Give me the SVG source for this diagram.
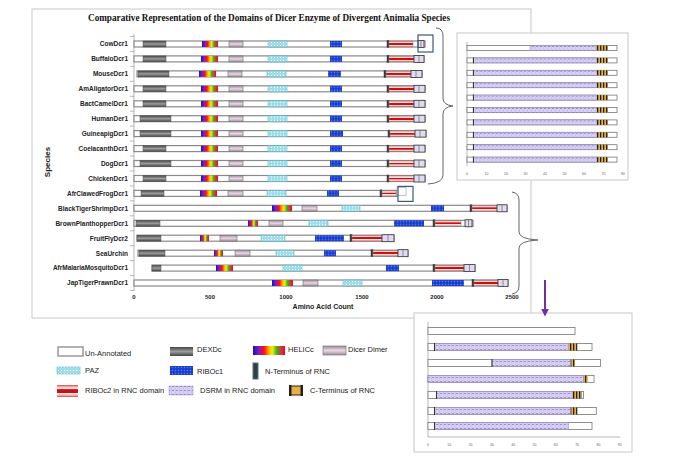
<svg xmlns="http://www.w3.org/2000/svg" width="700" height="463" viewBox="0 0 700 463">
<defs>
<linearGradient id="gDex" x1="0" y1="0" x2="0" y2="1"><stop offset="0" stop-color="#444"/><stop offset="0.5" stop-color="#9c9c9c"/><stop offset="1" stop-color="#444"/></linearGradient>
<linearGradient id="gHel" x1="0" y1="0" x2="1" y2="0"><stop offset="0" stop-color="#1010d0"/><stop offset="0.18" stop-color="#8020c0"/><stop offset="0.35" stop-color="#ff1010"/><stop offset="0.5" stop-color="#ffb000"/><stop offset="0.6" stop-color="#f0f000"/><stop offset="0.75" stop-color="#30b030"/><stop offset="0.9" stop-color="#ff2020"/><stop offset="1" stop-color="#c01060"/></linearGradient>
<linearGradient id="gDim" x1="0" y1="0" x2="0" y2="1"><stop offset="0" stop-color="#a08c9c"/><stop offset="0.5" stop-color="#e8d8e4"/><stop offset="1" stop-color="#a08c9c"/></linearGradient>
<linearGradient id="gRib2" x1="0" y1="0" x2="0" y2="1"><stop offset="0" stop-color="#d84848"/><stop offset="0.18" stop-color="#f6c8c8"/><stop offset="0.34" stop-color="#fde8e8"/><stop offset="0.38" stop-color="#cc1010"/><stop offset="0.64" stop-color="#cc1010"/><stop offset="0.68" stop-color="#fde8e8"/><stop offset="0.82" stop-color="#f6c8c8"/><stop offset="1" stop-color="#d84848"/></linearGradient>
<pattern id="pPaz" patternUnits="userSpaceOnUse" width="3" height="3"><rect width="3" height="3" fill="#9fdde9"/><rect x="1" y="1" width="1" height="1" fill="#fff"/></pattern>
<pattern id="pRib1" patternUnits="userSpaceOnUse" width="3" height="3"><rect width="3" height="3" fill="#1636c4"/><rect x="0.7" y="0.7" width="1.6" height="1.6" fill="#4a7aff"/></pattern>
<pattern id="pDsrm" patternUnits="userSpaceOnUse" width="4" height="4"><rect width="4" height="4" fill="#d8d0f2"/><rect x="0" y="2" width="2.2" height="0.6" fill="#7a68c0"/><rect x="3" y="0" width="0.5" height="4" fill="#c0b6e6"/></pattern>
<pattern id="pCt" patternUnits="userSpaceOnUse" width="3" height="3"><rect width="3" height="3" fill="#e9b040"/><rect x="0" y="0" width="1.3" height="3" fill="#222"/></pattern>
<marker id="arr" viewBox="0 0 10 10" refX="8" refY="5" markerWidth="4" markerHeight="4" orient="auto"><path d="M0,0 L10,5 L0,10 z" fill="#7030a0"/></marker>
<style>
.frame{fill:#fff;stroke:#c8c8c8;stroke-width:1}
.bar{fill:#fff;stroke:#8a8a8a;stroke-width:1.2}
.dex{fill:url(#gDex);stroke:#555;stroke-width:0.5}
.hel{fill:url(#gHel)}
.dim{fill:url(#gDim);stroke:#7a7a7a;stroke-width:0.7}
.paz{fill:url(#pPaz);stroke:#5bb8cc;stroke-width:0.6}
.rib1{fill:url(#pRib1)}
.nt{fill:#3a3a3a;stroke:#2a4a50;stroke-width:0.5}
.rib2{fill:url(#gRib2);stroke:#888;stroke-width:0.5}
.end{fill:#e2daf0;stroke:#333;stroke-width:0.8}
.endl{stroke:#555;stroke-width:0.6}
.lbl{font-family:"Liberation Sans",Arial,sans-serif;font-weight:bold;font-size:6.5px;text-anchor:end;fill:#222}
.ax{font-family:"Liberation Sans",Arial,sans-serif;font-weight:bold;font-size:6px;text-anchor:middle;fill:#222}
.sax{font-family:"Liberation Sans",Arial,sans-serif;font-size:3.5px;text-anchor:middle;fill:#666}
.leg{font-family:"Liberation Sans",Arial,sans-serif;font-size:7.5px;fill:#222}
.ibar{fill:#fff;stroke:#777;stroke-width:0.8}
.ds{fill:url(#pDsrm);stroke:#8878c0;stroke-width:0.4}
.ct{fill:url(#pCt)}
.axl{stroke:#999;stroke-width:0.7;fill:none}
.brace{fill:none;stroke:#666;stroke-width:1}
.hl{fill:none;stroke:#3a5a78;stroke-width:1.2}
</style>
</defs>

<rect class="frame" x="32" y="9" width="499" height="309"/>
<text x="269" y="21" font-family="Liberation Serif,Times New Roman,serif" font-weight="bold" font-size="9.5" text-anchor="middle" textLength="362" lengthAdjust="spacingAndGlyphs" fill="#111">Comparative  Representation of the Domains of Dicer Enzyme of Divergent Animalia Species</text>
<text transform="translate(50,162) rotate(-90)" font-family="Liberation Sans,Arial,sans-serif" font-weight="bold" font-size="8" text-anchor="middle" fill="#222">Species</text>

<g id="axis">
<line class="axl" x1="134" y1="34" x2="134" y2="291"/>
<path class="axl" d="M130,36.5H134M130,51.4H134M130,66.4H134M130,81.3H134M130,96.3H134M130,111.2H134M130,126.1H134M130,141.1H134M130,156H134M130,171H134M130,185.9H134M130,200.8H134M130,215.8H134M130,230.7H134M130,245.7H134M130,260.6H134M130,275.5H134M130,290.5H134"/>
<text class="ax" x="134" y="299">0</text>
<text class="ax" x="210" y="299">500</text>
<text class="ax" x="286" y="299">1000</text>
<text class="ax" x="362" y="299">1500</text>
<text class="ax" x="437" y="299">2000</text>
<text class="ax" x="512" y="299">2500</text>
<text x="323" y="309" font-family="Liberation Sans,Arial,sans-serif" font-weight="bold" font-size="7" text-anchor="middle" fill="#222">Amino Acid Count</text>
</g>

<g id="CowDcr1" transform="translate(0,44)">
<text class="lbl" x="128" y="2.3">CowDcr1</text>
<rect class="bar" x="134" y="-3" width="291" height="6"/>
<rect class="dex" x="143" y="-3" width="23" height="6"/><rect class="hel" x="202" y="-3" width="16" height="6"/><rect class="dim" x="229" y="-3" width="14" height="6"/><rect class="paz" x="268" y="-3" width="19" height="6"/><rect class="rib1" x="330" y="-3" width="12" height="6"/><rect class="nt" x="387" y="-3.5" width="2" height="7"/><rect class="rib2" x="389" y="-3" width="24" height="6"/><rect class="end" x="418" y="-3.5" width="6" height="7"/><line class="endl" x1="421" y1="-3.5" x2="421" y2="3.5"/>
<rect class="hl" x="418" y="-9" width="15" height="17"/>
</g>
<g id="BuffaloDcr1" transform="translate(0,58.9)">
<text class="lbl" x="128" y="2.3">BuffaloDcr1</text>
<rect class="bar" x="134" y="-3" width="290" height="6"/>
<rect class="dex" x="143" y="-3" width="23" height="6"/><rect class="hel" x="201" y="-3" width="17" height="6"/><rect class="dim" x="229" y="-3" width="14" height="6"/><rect class="paz" x="268" y="-3" width="19" height="6"/><rect class="rib1" x="330" y="-3" width="12" height="6"/><rect class="nt" x="387" y="-3.5" width="2" height="7"/><rect class="rib2" x="389" y="-3" width="25" height="6"/><rect class="end" x="414" y="-3.5" width="10" height="7"/><line class="endl" x1="419" y1="-3.5" x2="419" y2="3.5"/>
</g>
<g id="MouseDcr1" transform="translate(0,73.9)">
<text class="lbl" x="128" y="2.3">MouseDcr1</text>
<rect class="bar" x="137" y="-3" width="285" height="6"/>
<rect class="dex" x="138" y="-3" width="31" height="6"/><rect class="hel" x="199" y="-3" width="17" height="6"/><rect class="dim" x="228" y="-3" width="14" height="6"/><rect class="paz" x="267" y="-3" width="19" height="6"/><rect class="rib1" x="328" y="-3" width="13" height="6"/><rect class="nt" x="384" y="-3.5" width="2" height="7"/><rect class="rib2" x="386" y="-3" width="25" height="6"/><rect class="end" x="411" y="-3.5" width="11" height="7"/><line class="endl" x1="416" y1="-3.5" x2="416" y2="3.5"/>
</g>
<g id="AmAligatorDcr1" transform="translate(0,88.8)">
<text class="lbl" x="128" y="2.3">AmAligatorDcr1</text>
<rect class="bar" x="134" y="-3" width="291" height="6"/>
<rect class="dex" x="143" y="-3" width="23" height="6"/><rect class="hel" x="201" y="-3" width="17" height="6"/><rect class="dim" x="229" y="-3" width="14" height="6"/><rect class="paz" x="268" y="-3" width="19" height="6"/><rect class="rib1" x="330" y="-3" width="12" height="6"/><rect class="nt" x="387" y="-3.5" width="2" height="7"/><rect class="rib2" x="389" y="-3" width="25" height="6"/><rect class="end" x="414" y="-3.5" width="11" height="7"/><line class="endl" x1="419" y1="-3.5" x2="419" y2="3.5"/>
</g>
<g id="BactCamelDcr1" transform="translate(0,103.8)">
<text class="lbl" x="128" y="2.3">BactCamelDcr1</text>
<rect class="bar" x="134" y="-3" width="291" height="6"/>
<rect class="dex" x="143" y="-3" width="23" height="6"/><rect class="hel" x="201" y="-3" width="17" height="6"/><rect class="dim" x="229" y="-3" width="14" height="6"/><rect class="paz" x="268" y="-3" width="19" height="6"/><rect class="rib1" x="330" y="-3" width="12" height="6"/><rect class="nt" x="387" y="-3.5" width="2" height="7"/><rect class="rib2" x="389" y="-3" width="25" height="6"/><rect class="end" x="414" y="-3.5" width="11" height="7"/><line class="endl" x1="419" y1="-3.5" x2="419" y2="3.5"/>
</g>
<g id="HumanDer1" transform="translate(0,118.7)">
<text class="lbl" x="128" y="2.3">HumanDer1</text>
<rect class="bar" x="134" y="-3" width="291" height="6"/>
<rect class="dex" x="140" y="-3" width="31" height="6"/><rect class="hel" x="201" y="-3" width="17" height="6"/><rect class="dim" x="229" y="-3" width="14" height="6"/><rect class="paz" x="268" y="-3" width="19" height="6"/><rect class="rib1" x="330" y="-3" width="12" height="6"/><rect class="nt" x="387" y="-3.5" width="2" height="7"/><rect class="rib2" x="389" y="-3" width="25" height="6"/><rect class="end" x="414" y="-3.5" width="11" height="7"/><line class="endl" x1="419" y1="-3.5" x2="419" y2="3.5"/>
</g>
<g id="GuineapigDcr1" transform="translate(0,133.6)">
<text class="lbl" x="128" y="2.3">GuineapigDcr1</text>
<rect class="bar" x="134" y="-3" width="292" height="6"/>
<rect class="dex" x="140" y="-3" width="31" height="6"/><rect class="hel" x="201" y="-3" width="17" height="6"/><rect class="dim" x="229" y="-3" width="14" height="6"/><rect class="paz" x="268" y="-3" width="19" height="6"/><rect class="rib1" x="330" y="-3" width="13" height="6"/><rect class="nt" x="388" y="-3.5" width="2" height="7"/><rect class="rib2" x="390" y="-3" width="25" height="6"/><rect class="end" x="415" y="-3.5" width="11" height="7"/><line class="endl" x1="420" y1="-3.5" x2="420" y2="3.5"/>
</g>
<g id="CoelacanthDcr1" transform="translate(0,148.6)">
<text class="lbl" x="128" y="2.3">CoelacanthDcr1</text>
<rect class="bar" x="134" y="-3" width="291" height="6"/>
<rect class="dex" x="143" y="-3" width="23" height="6"/><rect class="hel" x="201" y="-3" width="17" height="6"/><rect class="dim" x="229" y="-3" width="14" height="6"/><rect class="paz" x="268" y="-3" width="19" height="6"/><rect class="rib1" x="330" y="-3" width="12" height="6"/><rect class="nt" x="387" y="-3.5" width="2" height="7"/><rect class="rib2" x="389" y="-3" width="25" height="6"/><rect class="end" x="414" y="-3.5" width="11" height="7"/><line class="endl" x1="419" y1="-3.5" x2="419" y2="3.5"/>
</g>
<g id="DogDcr1" transform="translate(0,163.5)">
<text class="lbl" x="128" y="2.3">DogDcr1</text>
<rect class="bar" x="134" y="-3" width="291" height="6"/>
<rect class="dex" x="140" y="-3" width="31" height="6"/><rect class="hel" x="201" y="-3" width="17" height="6"/><rect class="dim" x="229" y="-3" width="14" height="6"/><rect class="paz" x="268" y="-3" width="19" height="6"/><rect class="rib1" x="330" y="-3" width="12" height="6"/><rect class="nt" x="387" y="-3.5" width="2" height="7"/><rect class="rib2" x="389" y="-3" width="25" height="6"/><rect class="end" x="414" y="-3.5" width="11" height="7"/><line class="endl" x1="419" y1="-3.5" x2="419" y2="3.5"/>
</g>
<g id="ChickenDcr1" transform="translate(0,178.5)">
<text class="lbl" x="128" y="2.3">ChickenDcr1</text>
<rect class="bar" x="134" y="-3" width="291" height="6"/>
<rect class="dex" x="143" y="-3" width="23" height="6"/><rect class="hel" x="201" y="-3" width="17" height="6"/><rect class="dim" x="229" y="-3" width="14" height="6"/><rect class="paz" x="268" y="-3" width="19" height="6"/><rect class="rib1" x="330" y="-3" width="12" height="6"/><rect class="nt" x="387" y="-3.5" width="2" height="7"/><rect class="rib2" x="389" y="-3" width="25" height="6"/><rect class="end" x="414" y="-3.5" width="11" height="7"/><line class="endl" x1="419" y1="-3.5" x2="419" y2="3.5"/>
</g>
<g id="AfrClawedFrogDcr1" transform="translate(0,193.4)">
<text class="lbl" x="128" y="2.3">AfrClawedFrogDcr1</text>
<rect class="bar" x="134" y="-3" width="263" height="6"/>
<rect class="dex" x="141" y="-3" width="23" height="6"/><rect class="hel" x="200" y="-3" width="17" height="6"/><rect class="dim" x="228" y="-3" width="15" height="6"/><rect class="paz" x="267" y="-3" width="19" height="6"/><rect class="rib1" x="327" y="-3" width="12" height="6"/><rect class="nt" x="380" y="-3.5" width="2" height="7"/><rect class="rib2" x="382" y="-3" width="14" height="6"/>
<rect x="397" y="-6" width="9" height="8" fill="#fff" stroke="#999" stroke-width="0.6"/>
<rect class="hl" x="398" y="-7" width="15" height="15"/>
</g>
<g id="BlackTigerShrimpDcr1" transform="translate(0,208.3)">
<text class="lbl" x="128" y="2.3">BlackTigerShrimpDcr1</text>
<rect class="bar" x="134" y="-3" width="373" height="6"/>
<rect class="hel" x="272" y="-3" width="20" height="6"/><rect class="dim" x="302" y="-3" width="15" height="6"/><rect class="paz" x="342" y="-3" width="18" height="6"/><rect class="rib1" x="431" y="-3" width="13" height="6"/><rect class="nt" x="470" y="-3.5" width="2" height="7"/><rect class="rib2" x="472" y="-3" width="25" height="6"/><rect class="end" x="497" y="-3.5" width="10" height="7"/><line class="endl" x1="502" y1="-3.5" x2="502" y2="3.5"/>
</g>
<g id="BrownPlanthopperDcr1" transform="translate(0,223.3)">
<text class="lbl" x="128" y="2.3">BrownPlanthopperDcr1</text>
<rect class="bar" x="134" y="-3" width="339" height="6"/>
<rect class="dex" x="136" y="-3" width="24" height="6"/><rect class="hel" x="248" y="-3" width="10" height="6"/><rect class="dim" x="269" y="-3" width="14" height="6"/><rect class="paz" x="309" y="-3" width="19" height="6"/><rect class="rib1" x="394" y="-3" width="30" height="6"/><rect class="nt" x="433" y="-3.5" width="2" height="7"/><rect class="rib2" x="435" y="-3" width="26" height="6"/><rect class="end" x="465" y="-3.5" width="7" height="7"/><line class="endl" x1="468.5" y1="-3.5" x2="468.5" y2="3.5"/>
</g>
<g id="FruitFlyDcr2" transform="translate(0,238.2)">
<text class="lbl" x="128" y="2.3">FruitFlyDcr2</text>
<rect class="bar" x="137" y="-3" width="257" height="6"/>
<rect class="dex" x="137" y="-3" width="24" height="6"/><rect class="hel" x="200" y="-3" width="9" height="6"/><rect class="dim" x="220" y="-3" width="17" height="6"/><rect class="paz" x="261" y="-3" width="24" height="6"/><rect class="rib1" x="315" y="-3" width="29" height="6"/><rect class="nt" x="350" y="-3.5" width="2" height="7"/><rect class="rib2" x="352" y="-3" width="30" height="6"/><rect class="end" x="382" y="-3.5" width="12" height="7"/><line class="endl" x1="388" y1="-3.5" x2="388" y2="3.5"/>
</g>
<g id="SeaUrchin" transform="translate(0,253.2)">
<text class="lbl" x="128" y="2.3">SeaUrchin</text>
<rect class="bar" x="138" y="-3" width="270" height="6"/>
<rect class="dex" x="139" y="-3" width="26" height="6"/><rect class="hel" x="214" y="-3" width="9" height="6"/><rect class="dim" x="235" y="-3" width="15" height="6"/><rect class="paz" x="276" y="-3" width="18" height="6"/><rect class="rib1" x="324" y="-3" width="12" height="6"/><rect class="nt" x="371" y="-3.5" width="2" height="7"/><rect class="rib2" x="373" y="-3" width="25" height="6"/><rect class="end" x="398" y="-3.5" width="10" height="7"/><line class="endl" x1="403" y1="-3.5" x2="403" y2="3.5"/>
</g>
<g id="AfrMalariaMosquitoDcr1" transform="translate(0,268.1)">
<text class="lbl" x="128" y="2.3">AfrMalariaMosquitoDcr1</text>
<rect class="bar" x="152" y="-3" width="323" height="6"/>
<rect class="dex" x="152" y="-3" width="9" height="6"/><rect class="hel" x="216" y="-3" width="17" height="6"/><rect class="paz" x="283" y="-3" width="19" height="6"/><rect class="rib1" x="386" y="-3" width="13" height="6"/><rect class="nt" x="433" y="-3.5" width="2" height="7"/><rect class="rib2" x="435" y="-3" width="29" height="6"/><rect class="end" x="464" y="-3.5" width="11" height="7"/><line class="endl" x1="469.5" y1="-3.5" x2="469.5" y2="3.5"/>
</g>
<g id="JapTigerPrawnDcr1" transform="translate(0,283)">
<text class="lbl" x="128" y="2.3">JapTigerPrawnDcr1</text>
<rect class="bar" x="134" y="-3" width="374" height="6"/>
<rect class="hel" x="272" y="-3" width="21" height="6"/><rect class="dim" x="303" y="-3" width="15" height="6"/><rect class="paz" x="343" y="-3" width="19" height="6"/><rect class="rib1" x="432" y="-3" width="32" height="6"/><rect class="nt" x="472" y="-3.5" width="2" height="7"/><rect class="rib2" x="474" y="-3" width="24" height="6"/><rect class="end" x="498" y="-3.5" width="10" height="7"/><line class="endl" x1="503" y1="-3.5" x2="503" y2="3.5"/>
</g>

<g id="inset-upper">
<rect class="frame" x="457" y="33" width="171" height="147" stroke="#d0d0d0"/>
<line class="axl" x1="467" y1="42" x2="467" y2="166"/>
<g transform="translate(0,48)"><rect class="ibar" x="467" y="-2.5" width="150" height="5"/><rect class="ds" x="530" y="-2.5" width="66" height="5"/><rect class="ct" x="596" y="-2.5" width="12" height="5"/></g>
<g transform="translate(0,60.4)"><rect class="ibar" x="467" y="-2.5" width="150" height="5"/><rect class="ds" x="473" y="-2.5" width="124" height="5"/><rect fill="#333" x="473" y="-3" width="1" height="6"/><rect class="ct" x="597" y="-2.5" width="11" height="5"/></g>
<g transform="translate(0,72.8)"><rect class="ibar" x="467" y="-2.5" width="150" height="5"/><rect class="ds" x="473" y="-2.5" width="124" height="5"/><rect fill="#333" x="473" y="-3" width="1" height="6"/><rect class="ct" x="597" y="-2.5" width="11" height="5"/></g>
<g transform="translate(0,85.2)"><rect class="ibar" x="467" y="-2.5" width="150" height="5"/><rect class="ds" x="473" y="-2.5" width="124" height="5"/><rect fill="#333" x="473" y="-3" width="1" height="6"/><rect class="ct" x="597" y="-2.5" width="11" height="5"/></g>
<g transform="translate(0,97.6)"><rect class="ibar" x="467" y="-2.5" width="150" height="5"/><rect class="ds" x="473" y="-2.5" width="124" height="5"/><rect fill="#333" x="473" y="-3" width="1" height="6"/><rect class="ct" x="597" y="-2.5" width="11" height="5"/></g>
<g transform="translate(0,110)"><rect class="ibar" x="467" y="-2.5" width="150" height="5"/><rect class="ds" x="473" y="-2.5" width="124" height="5"/><rect fill="#333" x="473" y="-3" width="1" height="6"/><rect class="ct" x="597" y="-2.5" width="11" height="5"/></g>
<g transform="translate(0,122.4)"><rect class="ibar" x="467" y="-2.5" width="150" height="5"/><rect class="ds" x="473" y="-2.5" width="124" height="5"/><rect fill="#333" x="473" y="-3" width="1" height="6"/><rect class="ct" x="597" y="-2.5" width="11" height="5"/></g>
<g transform="translate(0,134.8)"><rect class="ibar" x="467" y="-2.5" width="150" height="5"/><rect class="ds" x="473" y="-2.5" width="124" height="5"/><rect fill="#333" x="473" y="-3" width="1" height="6"/><rect class="ct" x="597" y="-2.5" width="11" height="5"/></g>
<g transform="translate(0,147.2)"><rect class="ibar" x="467" y="-2.5" width="150" height="5"/><rect class="ds" x="473" y="-2.5" width="124" height="5"/><rect fill="#333" x="473" y="-3" width="1" height="6"/><rect class="ct" x="597" y="-2.5" width="11" height="5"/></g>
<g transform="translate(0,159.6)"><rect class="ibar" x="467" y="-2.5" width="150" height="5"/><rect class="ds" x="473" y="-2.5" width="124" height="5"/><rect fill="#333" x="473" y="-3" width="1" height="6"/><rect class="ct" x="597" y="-2.5" width="11" height="5"/></g>
<text class="sax" x="467" y="175">0</text><text class="sax" x="486.5" y="175">10</text><text class="sax" x="506" y="175">20</text><text class="sax" x="525.5" y="175">30</text><text class="sax" x="545" y="175">40</text><text class="sax" x="564.5" y="175">50</text><text class="sax" x="584" y="175">60</text><text class="sax" x="603.5" y="175">70</text><text class="sax" x="623" y="175">80</text>
</g>

<g id="inset-lower">
<rect class="frame" x="414" y="313" width="218" height="139" stroke="#d0d0d0"/>
<line class="axl" x1="428" y1="322" x2="428" y2="437"/>
<line class="axl" x1="428" y1="437" x2="620" y2="437" stroke="#ddd"/>
<g transform="translate(0,331)"><rect class="ibar" x="428" y="-3.5" width="147" height="7"/></g>
<g transform="translate(0,347)"><rect class="ibar" x="428" y="-3.5" width="164" height="7"/><rect class="ds" x="434.4" y="-3.5" width="134.2" height="7"/><rect fill="#333" x="434" y="-4" width="1" height="8"/><rect class="ct" x="568.6" y="-3.5" width="8.5" height="7"/><line class="endl" x1="577" y1="-3.5" x2="577" y2="3.5"/></g>
<g transform="translate(0,363)"><rect class="ibar" x="428" y="-3.5" width="172.5" height="7"/><rect class="ds" x="491.9" y="-3.5" width="78.8" height="7"/><rect fill="#333" x="491.5" y="-4" width="1" height="8"/><rect class="ct" x="570.7" y="-3.5" width="4.3" height="7"/></g>
<g transform="translate(0,379)"><rect class="ibar" x="428" y="-3.5" width="166" height="7"/><rect class="ds" x="428" y="-3.5" width="155.5" height="7"/><rect class="ct" x="583.5" y="-3.5" width="4.3" height="7"/></g>
<g transform="translate(0,395)"><rect class="ibar" x="428" y="-3.5" width="155.5" height="7"/><rect class="ds" x="436.5" y="-3.5" width="136.3" height="7"/><rect fill="#333" x="436" y="-4" width="1" height="8"/><rect class="ct" x="572.8" y="-3.5" width="8.5" height="7"/><line class="endl" x1="581.3" y1="-3.5" x2="581.3" y2="3.5"/></g>
<g transform="translate(0,411)"><rect class="ibar" x="428" y="-3.5" width="168.3" height="7"/><rect class="ds" x="434.4" y="-3.5" width="136.3" height="7"/><rect fill="#333" x="434" y="-4" width="1" height="8"/><rect class="ct" x="570.7" y="-3.5" width="6.4" height="7"/><line class="endl" x1="577.1" y1="-3.5" x2="577.1" y2="3.5"/></g>
<g transform="translate(0,426)"><rect class="ibar" x="428" y="-3.5" width="164" height="7"/><rect class="ds" x="434.4" y="-3.5" width="134.2" height="7"/><rect fill="#333" x="434" y="-4" width="1" height="8"/></g>
<text class="sax" x="428" y="446">0</text><text class="sax" x="449.3" y="446">10</text><text class="sax" x="470.6" y="446">20</text><text class="sax" x="491.9" y="446">30</text><text class="sax" x="513.2" y="446">40</text><text class="sax" x="534.5" y="446">50</text><text class="sax" x="555.8" y="446">60</text><text class="sax" x="577.1" y="446">70</text><text class="sax" x="598.4" y="446">80</text><text class="sax" x="619.7" y="446">90</text>
</g>

<g id="connectors">
<path class="brace" d="M436,28 Q443,28 443,36 L443,98 Q443,105 453,106 Q443,107 443,114 L443,175 Q443,183 428,184"/>
<path class="brace" d="M512,192 Q519,193 519,200 L519,232 Q519,239 538,240 Q519,241 519,248 L519,286 Q519,293 512,294"/>
<line x1="545" y1="280" x2="545" y2="315" stroke="#7030a0" stroke-width="2" marker-end="url(#arr)"/>
</g>

<g id="legend">
<g id="leg-unannotated"><rect x="58" y="347" width="25" height="9" fill="#fff" stroke="#999" stroke-width="1.5"/><text class="leg" x="85" y="356">Un-Annotated</text></g>
<g id="leg-dexdc"><rect x="170" y="347" width="23" height="9" fill="url(#gDex)"/><text class="leg" x="197" y="352">DEXDc</text></g>
<g id="leg-helicc"><rect x="253" y="346" width="32" height="9" fill="url(#gHel)"/><text class="leg" x="288" y="352">HELICc</text></g>
<g id="leg-dimer"><rect x="323" y="346" width="23" height="9" class="dim"/><text class="leg" x="348" y="352">Dicer Dimer</text></g>
<g id="leg-paz"><rect x="57" y="367" width="23" height="7" class="paz"/><text class="leg" x="85" y="373">PAZ</text></g>
<g id="leg-ribo1"><rect x="170" y="366" width="23" height="9" class="rib1"/><text class="leg" x="197" y="374">RIBOc1</text></g>
<g id="leg-nterm"><rect x="253" y="363" width="5" height="16" fill="#3a3a3a" stroke="#3a8090" stroke-width="1"/><text class="leg" x="265" y="374">N-Terminus of RNC</text></g>
<g id="leg-ribo2"><rect x="57" y="385" width="21" height="12" fill="url(#gRib2)"/><text class="leg" x="85" y="393">RIBOc2 in RNC domain</text></g>
<g id="leg-dsrm"><rect x="169" y="386" width="24" height="9" class="ds"/><text class="leg" x="200" y="393">DSRM in RNC domain</text></g>
<g id="leg-cterm"><rect x="291" y="386" width="10" height="9" fill="#e9b040"/><rect x="289" y="385" width="2.5" height="11" fill="#222"/><rect x="300.5" y="385" width="2.5" height="11" fill="#222"/><line x1="289" y1="386" x2="303" y2="386" stroke="#222"/><line x1="289" y1="395" x2="303" y2="395" stroke="#222"/><text class="leg" x="310" y="393">C-Terminus of RNC</text></g>
</g>
</svg>
